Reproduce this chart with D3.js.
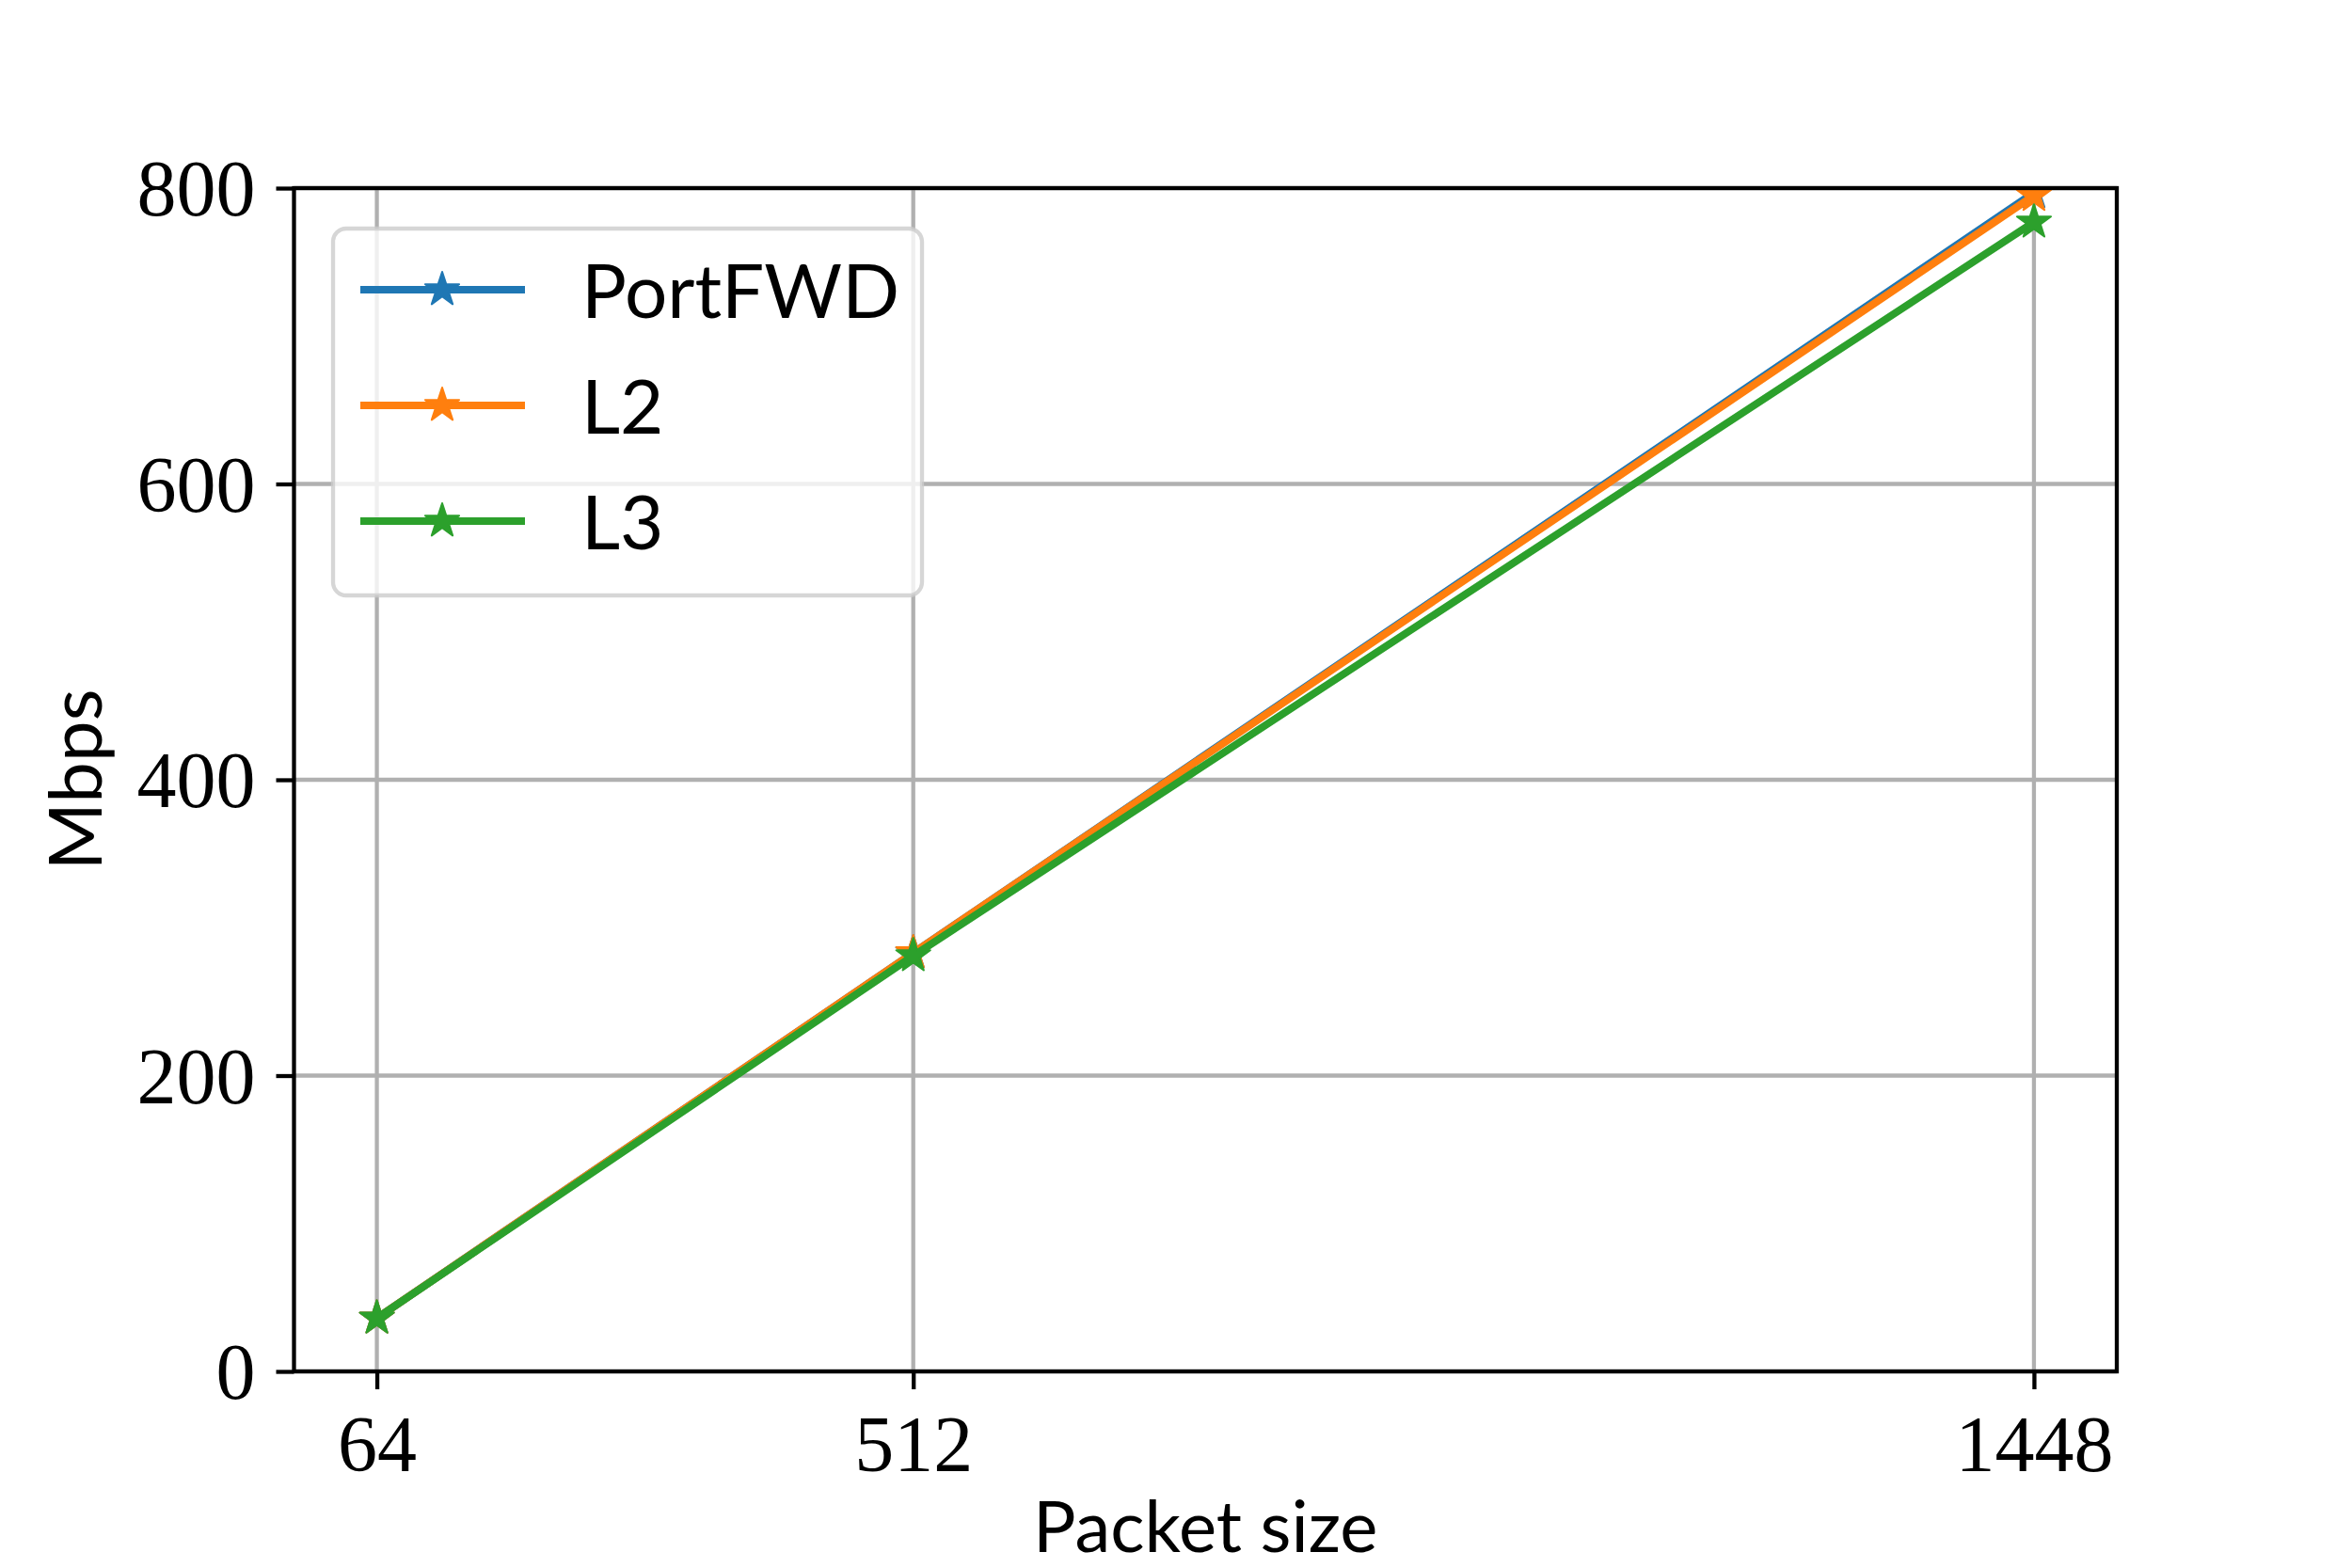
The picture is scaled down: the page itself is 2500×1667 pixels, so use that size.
<!DOCTYPE html>
<html>
<head>
<meta charset="utf-8">
<script src="https://cdn.jsdelivr.net/npm/d3@7"></script>
<style>
  body { margin: 0; background: #fff; }
  svg { display: block; }
</style>
</head>
<body>
<div id="chart"></div>
<script>
// throughput per packet size, three forwarding modes

const packetSizes = [64, 512, 1448];
const seriesNames = ["PortFWD", "L2", "L3"];
const portfwd = [36, 283, 797];
const l2 = [36, 283, 795];
const l3 = [36, 281, 777];
const yTicks = [0, 200, 400, 600, 800];

const colors = ["#1f77b4", "#ff7f0e", "#2ca02c"];

var width = 2500;
var height = 1667;
var margin = {left: 312.5, right: 250, top: 200, bottom: 209};

var svg = d3.select("#chart").append("svg")
    .attr("width", width)
    .attr("height", height);

var pw = width - margin.left - margin.right;
var ph = height - margin.top - margin.bottom;

// matplotlib style 5% margins on x
var span = d3.max(packetSizes) - d3.min(packetSizes);
var x = d3.scaleLinear()
    .domain([d3.min(packetSizes) - 0.05 * span, d3.max(packetSizes) + 0.05 * span])
    .range([margin.left, margin.left + pw]);

var y = d3.scaleLinear()
    .domain([0, 800])
    .range([margin.top + ph, margin.top]);

svg.append("clipPath").attr("id", "plotclip")
  .append("rect")
    .attr("x", margin.left).attr("y", margin.top)
    .attr("width", pw).attr("height", ph);

// grid
var grid = svg.append("g").attr("class", "grid");
grid.selectAll(".gx").data(packetSizes).enter().append("line")
    .attr("x1", d => x(d)).attr("x2", d => x(d))
    .attr("y1", margin.top).attr("y2", margin.top + ph)
    .attr("stroke", "#b0b0b0").attr("stroke-width", 4.3);
grid.selectAll(".gy").data(yTicks).enter().append("line")
    .attr("y1", d => y(d)).attr("y2", d => y(d))
    .attr("x1", margin.left).attr("x2", margin.left + pw)
    .attr("stroke", "#b0b0b0").attr("stroke-width", 4.3);

// star marker like matplotlib '*'
function starPath(r) {
  var ri = r * 0.381966, pts = [];
  for (var i = 0; i < 10; i++) {
    var a = -Math.PI / 2 + i * Math.PI / 5;
    var rr = i % 2 === 0 ? r : ri;
    pts.push([rr * Math.cos(a), rr * Math.sin(a)]);
  }
  return "M" + pts.map(p => p[0].toFixed(2) + "," + p[1].toFixed(2)).join("L") + "Z";
}

var allSeries = [portfwd, l2, l3];
var line = d3.line()
    .x((d, i) => x(packetSizes[i]))
    .y(d => y(d));

var plot = svg.append("g").attr("clip-path", "url(#plotclip)");

allSeries.forEach(function(vals, k) {
  var g = plot.append("g");
  g.append("path")
    .attr("d", line(vals))
    .attr("fill", "none")
    .attr("stroke", colors[k])
    .attr("stroke-width", 8)
    .attr("stroke-linejoin", "round");
  g.selectAll("path.star").data(vals).enter().append("path")
    .attr("class", "star")
    .attr("d", starPath(19))
    .attr("transform", (d, i) => "translate(" + x(packetSizes[i]) + "," + y(d) + ")")
    .attr("fill", colors[k])
    .attr("stroke", colors[k])
    .attr("stroke-width", 2)
    .attr("stroke-linejoin", "round");
});

// spines
svg.append("rect")
    .attr("x", margin.left).attr("y", margin.top)
    .attr("width", pw).attr("height", ph)
    .attr("fill", "none")
    .attr("stroke", "#000")
    .attr("stroke-width", 4.3);

// x axis
var xAxis = svg.append("g")
    .attr("transform", "translate(0," + (margin.top + ph) + ")")
    .call(d3.axisBottom(x).tickValues(packetSizes).tickSize(19).tickPadding(28).tickFormat(d3.format("d")));
// y axis
var yAxis = svg.append("g")
    .attr("transform", "translate(" + margin.left + ",0)")
    .call(d3.axisLeft(y).tickValues(yTicks).tickSize(19).tickPadding(22).tickFormat(d3.format("d")));

[xAxis, yAxis].forEach(function(ax) {
  ax.select(".domain").remove();
  ax.selectAll(".tick line").attr("stroke", "#000").attr("stroke-width", 4.3);
  ax.selectAll(".tick text")
    .attr("fill", "#000")
    .attr("font-family", "'Liberation Serif', 'DejaVu Serif', serif")
    .attr("font-size", 84);
});
yAxis.selectAll(".tick text").attr("dy", "0.34em");
xAxis.selectAll(".tick text").attr("dy", "0.7em");

// axis labels
var sans = "Lato, 'Open Sans', sans-serif";
svg.append("text")
    .attr("x", margin.left + pw / 2)
    .attr("y", 1650)
    .attr("text-anchor", "middle")
    .attr("font-family", sans)
    .attr("font-size", 76)
    .text("Packet size");

svg.append("text")
    .attr("transform", "translate(108," + (margin.top + ph / 2) + ") rotate(-90)")
    .attr("text-anchor", "middle")
    .attr("font-family", sans)
    .attr("font-size", 78)
    .text("Mbps");

// legend
var legend = svg.append("g").attr("class", "legend");
legend.append("rect")
    .attr("x", 354).attr("y", 243)
    .attr("width", 626).attr("height", 390)
    .attr("rx", 14).attr("ry", 14)
    .attr("fill", "rgba(255,255,255,0.8)")
    .attr("stroke", "rgba(204,204,204,0.8)")
    .attr("stroke-width", 4.3);

var rows = [308, 431, 554];
seriesNames.forEach(function(name, k) {
  var row = legend.append("g").attr("transform", "translate(0," + rows[k] + ")");
  row.append("line")
    .attr("x1", 383).attr("x2", 558)
    .attr("stroke", colors[k]).attr("stroke-width", 8);
  row.append("path")
    .attr("d", starPath(19))
    .attr("transform", "translate(470,0)")
    .attr("fill", colors[k])
    .attr("stroke", colors[k])
    .attr("stroke-width", 2)
    .attr("stroke-linejoin", "round");
  row.append("text")
    .attr("x", 618)
    .attr("y", 30)
    .attr("font-family", sans)
    .attr("font-size", 80)
    .text(name);
});
</script>
</body>
</html>
